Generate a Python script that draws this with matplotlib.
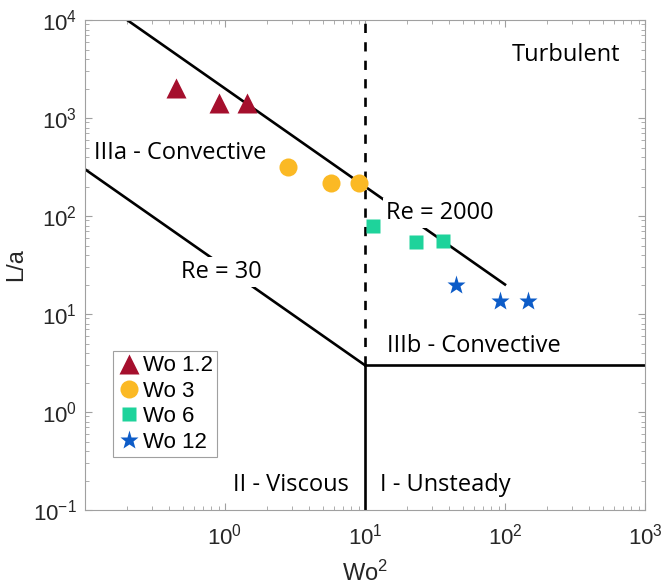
import numpy as np
import matplotlib.pyplot as plt
from matplotlib.ticker import FixedLocator

''' DATA '''
# measured cases, one series per Womersley number
wo12_x = [0.45, 0.9, 1.44]
wo12_y = [2020, 1420, 1420]
wo3_x = [2.8, 5.7, 9.0]
wo3_y = [316, 217, 217]
wo6_x = [11.4, 23, 36]
wo6_y = [79, 54, 55]
wo12b_x = [45, 92, 146]
wo12b_y = [20, 13.5, 13.5]

series_labels = ['Wo 1.2', 'Wo 3', 'Wo 6', 'Wo 12']

# regime boundaries (endpoints)
re2000_x = [0.2, 100]
re2000_y = [1e4, 20]
re30_x = [0.1, 10]
re30_y = [300, 3]
horiz_x = [10, 1000]
horiz_y = [3, 3]
vert_x = [10, 10]
vert_y = [0.1, 3]
dash_x = [10, 10]
dash_y = [3, 1e4]

xtick_vals = [1, 10, 100, 1000]
xtick_labels = ['$10^0$', '$10^1$', '$10^2$', '$10^3$']

''' STYLE '''
plt.rcParams['font.family'] = ['Liberation Sans', 'DejaVu Sans']
plt.rcParams['mathtext.default'] = 'regular'
spine_col = '#a0a0a0'
txt_col = '#262626'
region_font = ['Open Sans', 'DejaVu Sans']

fig = plt.figure(figsize=(6.65, 5.85), dpi=100)
ax = fig.add_axes([0.1278, 0.1282, 0.8421, 0.8376])
ax.set_xscale('log')
ax.set_yscale('log')
ax.set_xlim(0.1, 1000)
ax.set_ylim(0.1, 1e4)

# boundaries
lw = 1.9
ax.plot(re2000_x, re2000_y, color='k', lw=lw, zorder=2)
ax.plot(re30_x, re30_y, color='k', lw=lw, zorder=2)
ax.plot(horiz_x, horiz_y, color='k', lw=lw, zorder=2)
ax.plot(vert_x, vert_y, color='k', lw=lw, zorder=2)
ax.plot(dash_x, dash_y, color='k', lw=lw, ls=(0, (3.5, 3.5)), zorder=2)

# data points
ax.plot(wo12_x, wo12_y, ls='none', marker='^', ms=15, color='#a50f2d',
        mec='none', label=series_labels[0], zorder=5)
ax.plot(wo3_x, wo3_y, ls='none', marker='o', ms=13, color='#fbb924',
        mec='none', label=series_labels[1], zorder=5)
ax.plot(wo6_x, wo6_y, ls='none', marker='s', ms=10, color='#1ed39b',
        mec='none', label=series_labels[2], zorder=5)
ax.plot(wo12b_x, wo12b_y, ls='none', marker='*', ms=14, color='#0d5cc8',
        mec='none', label=series_labels[3], zorder=5)

# region labels
fs = 17
ax.text(0.116, 440, 'IIIa - Convective', fontsize=fs, family=region_font,
        va='center', ha='left')
ax.text(0.95, 27, 'Re = 30', fontsize=fs, family=region_font,
        va='center', ha='center',
        bbox=dict(facecolor='white', edgecolor='none', pad=2), zorder=3)
ax.text(34, 107, 'Re = 2000', fontsize=fs, family=region_font,
        va='center', ha='center',
        bbox=dict(facecolor='white', edgecolor='none', pad=2), zorder=3)
ax.text(60, 4.7, 'IIIb - Convective', fontsize=fs, family=region_font,
        va='center', ha='center')
ax.text(1.14, 0.18, 'II - Viscous', fontsize=fs, family=region_font,
        va='center', ha='left')
ax.text(12.8, 0.18, 'I - Unsteady', fontsize=fs, family=region_font,
        va='center', ha='left')
ax.text(112, 4380, 'Turbulent', fontsize=fs, family=region_font,
        va='center', ha='left')

# axes styling
ax.xaxis.set_major_locator(FixedLocator(xtick_vals))
ax.set_xticklabels(xtick_labels)
for s in ax.spines.values():
    s.set_color(spine_col)
    s.set_linewidth(0.8)
ax.tick_params(which='both', direction='in', top=True, right=True,
               colors=spine_col, labelcolor=txt_col, labelsize=16)
ax.tick_params(which='major', length=5)
ax.tick_params(which='minor', length=3)
ax.tick_params(axis='x', which='major', pad=10)
ax.tick_params(axis='y', which='major', pad=6)
ax.set_xlabel('Wo$^2$', fontsize=17, color=txt_col, labelpad=8)
ax.set_ylabel('L/a', fontsize=17, color=txt_col, labelpad=4)

leg = ax.legend(loc='lower left', bbox_to_anchor=(0.05, 0.108),
                borderaxespad=0, fontsize=16, frameon=True, fancybox=False,
                framealpha=1, edgecolor=spine_col, handlelength=1.0,
                handletextpad=0.15, labelspacing=0.2, borderpad=0.2,
                numpoints=1)
leg.get_frame().set_linewidth(0.8)

fig.savefig('out.png', dpi=100)
